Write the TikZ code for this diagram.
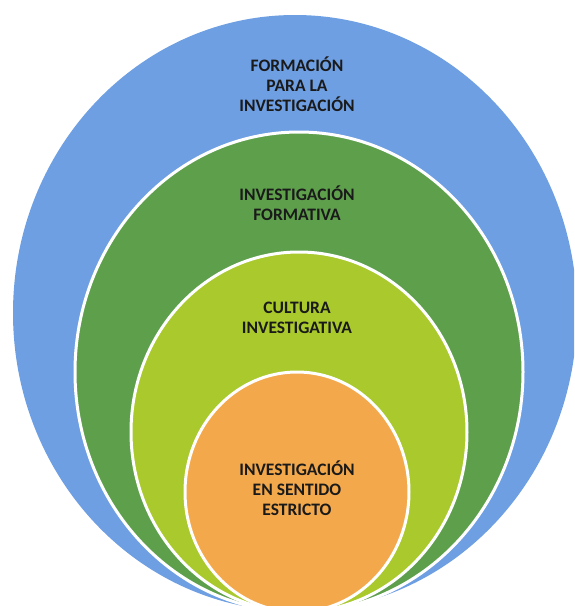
\documentclass[tikz,border=0pt]{standalone}
\usepackage{fontspec}
\setmainfont{Carlito}
\begin{document}
\begin{tikzpicture}[x=1pt,y=-1pt]
\definecolor{cblue}{HTML}{6E9FE3}
\definecolor{cgreen}{HTML}{5E9F4C}
\definecolor{clime}{HTML}{A9C92C}
\definecolor{corange}{HTML}{F4A84C}
\definecolor{txt}{HTML}{1A1A1A}
\tikzset{
  ring/.style={draw=white,line width=3pt},
  lbl/.style={font=\bfseries\fontsize{17.5}{20}\selectfont, align=center, text=txt, inner sep=0pt}
}
\useasboundingbox (0,0) rectangle (574,606);
\clip (0,0) rectangle (574,606);
\fill[white] (0,0) rectangle (574,606);
\path[fill=cblue] (295,313) ellipse [x radius=282pt, y radius=298pt];
\path[ring,fill=cgreen] (299,372) ellipse [x radius=224pt, y radius=240pt];
\path[ring,fill=clime] (299,432) ellipse [x radius=168pt, y radius=180pt];
\path[ring,fill=corange] (297,492) ellipse [x radius=112pt, y radius=120pt];
\node[lbl] (formacion) at (297,84) {FORMACIÓN\\PARA LA\\INVESTIGACIÓN};
\node[lbl] (formativa) at (297,203) {INVESTIGACIÓN\\FORMATIVA};
\node[lbl] (cultura) at (297,318) {CULTURA\\INVESTIGATIVA};
\node[lbl] (estricto) at (297,488) {INVESTIGACIÓN\\EN SENTIDO\\ESTRICTO};
\end{tikzpicture}
\end{document}
